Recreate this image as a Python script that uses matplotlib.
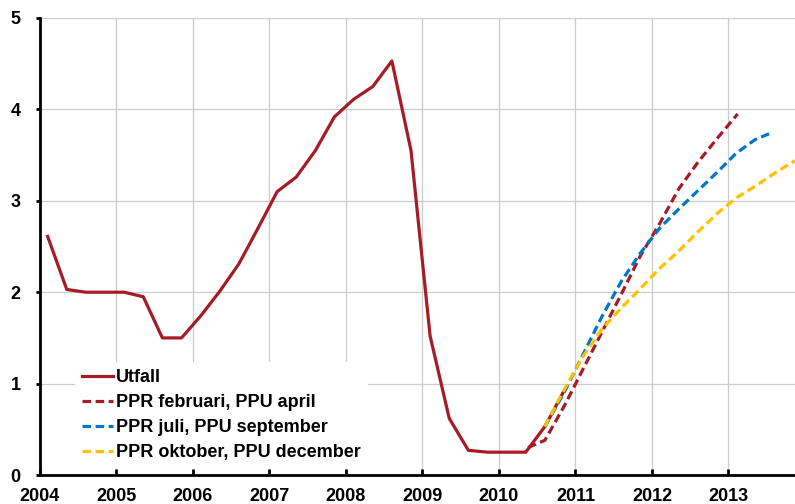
import matplotlib
matplotlib.use("Agg")
import matplotlib.pyplot as plt
import numpy as np

plt.rcParams['font.family'] = ['Liberation Sans', 'DejaVu Sans']

# Utfall (quarterly)
utfall_x = [2004.1, 2004.35, 2004.6, 2004.85, 2005.1, 2005.35, 2005.6, 2005.85,
            2006.1, 2006.35, 2006.6, 2006.85, 2007.1, 2007.35, 2007.6, 2007.85,
            2008.1, 2008.35, 2008.6, 2008.85, 2009.1, 2009.35, 2009.6, 2009.85,
            2010.1, 2010.35, 2010.6, 2010.85]
utfall_y = [2.61, 2.03, 2.00, 2.00, 2.00, 1.95, 1.50, 1.50,
            1.74, 2.01, 2.31, 2.70, 3.10, 3.26, 3.55, 3.92,
            4.11, 4.25, 4.53, 3.55, 1.52, 0.62, 0.27, 0.25,
            0.25, 0.25, 0.53, 0.92]

# PPR februari, PPU april
feb_x = [2010.38, 2010.6, 2010.85, 2011.1, 2011.35, 2011.6, 2011.85, 2012.1,
         2012.35, 2012.6, 2012.85, 2013.12]
feb_y = [0.30, 0.38, 0.75, 1.16, 1.57, 1.98, 2.40, 2.75, 3.13, 3.42, 3.68, 3.95]

# PPR juli, PPU september
jul_x = [2010.6, 2010.85, 2011.1, 2011.35, 2011.6, 2011.85, 2012.1, 2012.35,
         2012.6, 2012.85, 2013.1, 2013.35, 2013.55]
jul_y = [0.53, 0.90, 1.32, 1.74, 2.12, 2.43, 2.70, 2.91, 3.11, 3.31, 3.52, 3.67, 3.74]

# PPR oktober, PPU december
okt_x = [2010.6, 2010.85, 2011.1, 2011.35, 2011.6, 2011.85, 2012.1, 2012.35,
         2012.6, 2012.85, 2013.1, 2013.35, 2013.6, 2013.87]
okt_y = [0.53, 0.93, 1.30, 1.60, 1.83, 2.04, 2.26, 2.45, 2.66, 2.86, 3.03, 3.16,
         3.30, 3.44]

years = list(range(2004, 2014))
labels = ["Utfall", "PPR februari, PPU april", "PPR juli, PPU september",
          "PPR oktober, PPU december"]

red = "#A61C24"
blue = "#0077C8"
yellow = "#FFC000"

fig = plt.figure(figsize=(7.95, 5.04), dpi=100)
ax = fig.add_axes([0.0503, 0.0575, 0.9497, 0.9068])

dash = (2.7, 1.4)
ax.plot(utfall_x, utfall_y, color=red, lw=2.3, label=labels[0], zorder=3)
ax.plot(feb_x, feb_y, color=red, lw=2.3, dashes=dash, label=labels[1], zorder=3)
ax.plot(jul_x, jul_y, color=blue, lw=2.3, dashes=dash, label=labels[2], zorder=3)
ax.plot(okt_x, okt_y, color=yellow, lw=2.3, dashes=dash, label=labels[3], zorder=3)

ax.set_xlim(2004, 2013.87)
ax.set_ylim(0, 5)
ax.set_xticks(years)
ax.set_yticks([0, 1, 2, 3, 4, 5])
ax.grid(True, color="#cccccc", lw=0.9, zorder=0)
ax.set_axisbelow(True)

for s in ["top", "right"]:
    ax.spines[s].set_visible(False)
for s in ["left", "bottom"]:
    ax.spines[s].set_linewidth(2)
    ax.spines[s].set_color("black")

ax.tick_params(axis="x", direction="in", length=4, width=2, pad=9.5, labelsize=13)
ax.tick_params(axis="y", direction="out", length=3, width=2, pad=11, labelsize=13)
for lab in ax.get_xticklabels() + ax.get_yticklabels():
    lab.set_fontweight("bold")

leg = ax.legend(loc="lower left", bbox_to_anchor=(0.046, 0.014), borderaxespad=0,
                frameon=True, fancybox=False, framealpha=1, edgecolor="none",
                prop={"size": 13, "weight": "bold"}, handlelength=1.7,
                handletextpad=0.17, labelspacing=0.45, borderpad=0.4)

fig.savefig("out.png", dpi=100)
